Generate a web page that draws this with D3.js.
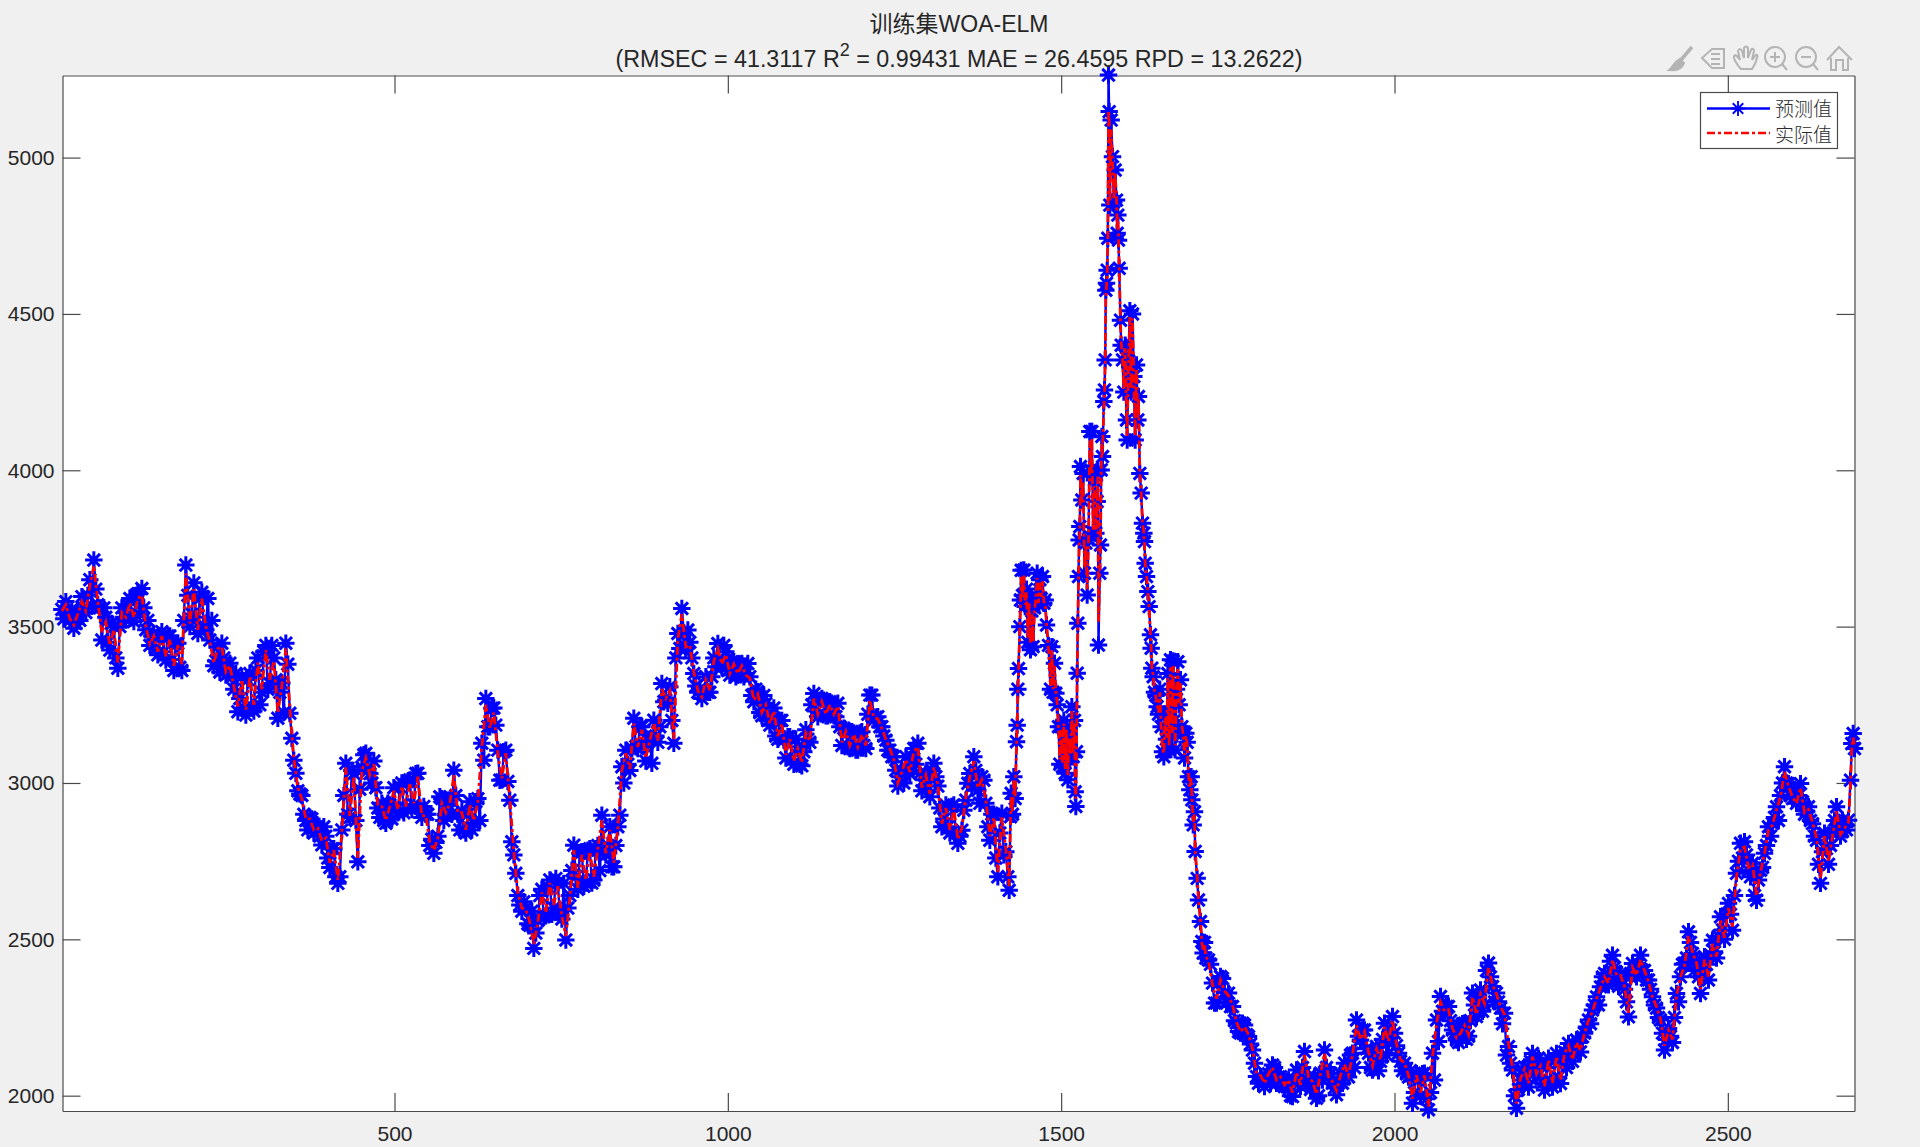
<!DOCTYPE html>
<html>
<head>
<meta charset="utf-8">
<title>WOA-ELM</title>
<script src="https://cdn.jsdelivr.net/npm/d3@7"></script>
<style>
  html, body { margin: 0; padding: 0; background: #f0f0f0; }
  svg { display: block; }
  text { font-family: "Liberation Sans", Arial, sans-serif; }
</style>
</head>
<body>
<svg id="chart" width="1920" height="1147"></svg>
<script>
// values, every 6th sample from x = 1
const headStart = 1, headStep = 6;
const headPredicted = [
  3555,3580,3520,3495,3545,3596,3545,3650,3713,3570,
  3457,3530,3425,3500,3367,3560,3521,3590,3516,3605,
  3622,3490,3440,3478,3410,3484,3393,3470,3360,3447,
  3360,3697,3500,3640,3478,3610,3490,3457,3375,3435,
  3447,3345,3383,3300,3228,3340,3217,3350,3230,3400,
  3290,3440,3318,3400,3207,3320,3447,3223,3073,2975,
  2960,2880,2890,2840,2860,2802,2830,2730,2790,2679,
  2850,3063,2890,3030,2748,3050,3095,3030,3070,2920,
  2935,2871,2930,2985,2905,3000,2920,3010,2930,3031,
  2890,2900,2800,2775,2830,2950,2900,2945,3041,2900,
  2910,2840,2940,2871,2950,3127,3270,3180,3240,3105,
  3010,3105,2945,2770,2640,2590,2600,2545,2471,2560,
  2660,2575,2690,2600,2680,2565,2498,2640,2801,2660,
  2780,2680,2790,2690,2800,2897,2770,2860,2732,2860,
  3052,3105,3040,3207,3110,3180,3070,3140,3201,3130,
  3318,3265,3308,3127,3478,3558,3430,3450,3350,3290,
  3270,3340,3290,3400,3446,3372,3420,3345,3388,3345,
  3382,3350,3340,3260,3292,3215,3255,3185,3240,3140,
  3200,3080,3148,3060,3116,3055,3170,3130,3286,3212,
  3270,3215,3260,3215,3255,3120,3170,3110,3160,3105,
  3164,3110,3281,3201,3212,3180,3137,3105,3084,2990,
  3040,3084,3030,3110,3127,2975,3030,2956,3063,2990,
  2860,2930,2840,2930,2807,2849,2945,3030,3084,2977,
  3020,2935,2817,2900,2700,2903,2780
];
// second pass over the same stretch, samples at x = 4, 10, 16 ...
const headBetweenStart = 4;
const headBetween = [
  3525,3545,3555,3510,3520,3560,3600,3565,3620,3560,
  3560,3450,3510,3400,3500,3530,3570,3530,3600,3540,
  3560,3520,3470,3430,3470,3420,3470,3395,3445,3370,
  3520,3600,3540,3530,3590,3500,3590,3520,3390,3355,
  3400,3350,3340,3350,3270,3240,3330,3240,3360,3250,
  3420,3300,3440,3330,3290,3225,3380,3143,3031,2965,
  2900,2850,2885,2860,2830,2860,2760,2790,2700,2700,
  2960,2900,3040,2880,2980,3090,3040,3000,2985,2890,
  2880,2935,2885,2915,2988,2905,3005,2915,3030,2920,
  2925,2900,2820,2810,2956,2880,2945,2900,2960,2850,
  2850,2900,2850,2940,2880,3073,3180,3239,3185,3009,
  3100,3005,2812,2711,2610,2620,2550,2590,2520,2640,
  2572,2668,2580,2695,2580,2679,2600,2720,2700,2775,
  2670,2785,2680,2790,2720,2780,2800,2732,2800,2897,
  3000,3060,3111,3116,3180,3120,3137,3063,3150,3180,
  3260,3255,3200,3400,3430,3480,3489,3400,3310,3300,
  3287,3290,3340,3372,3380,3440,3360,3388,3340,3380,
  3340,3382,3280,3300,3225,3280,3200,3220,3150,3200,
  3137,3148,3075,3140,3060,3100,3140,3250,3230,3265,
  3265,3215,3255,3212,3180,3175,3116,3164,3105,3160,
  3120,3220,3281,3210,3180,3150,3105,3084,3041,3020,
  3000,3040,3084,3060,3031,3010,2990,3040,3020,2920,
  2885,2860,2925,2840,2830,2913,2999,2990,3040,2935,
  3009,2860,2900,2760,2840,2770
];
const headActual = [
  3550,3570,3525,3505,3540,3580,3550,3630,3695,3580,
  3480,3515,3440,3490,3385,3545,3530,3575,3530,3590,
  3600,3500,3445,3470,3420,3470,3405,3460,3375,3440,
  3380,3670,3510,3620,3490,3590,3500,3450,3385,3430,
  3435,3355,3375,3310,3245,3330,3235,3340,3250,3385,
  3300,3425,3330,3390,3225,3310,3430,3240,3080,2985,
  2950,2885,2885,2850,2855,2815,2825,2745,2785,2690,
  2840,3050,2895,3020,2760,3040,3080,3025,3060,2930,
  2925,2880,2925,2975,2915,2990,2925,3000,2935,3020,
  2895,2895,2810,2785,2825,2935,2905,2935,3025,2905,
  2905,2850,2930,2880,2940,3115,3250,3175,3225,3095,
  3015,3095,2950,2780,2650,2600,2595,2555,2485,2555,
  2650,2585,2680,2610,2670,2575,2510,2630,2785,2665,
  2770,2690,2780,2700,2790,2880,2775,2850,2745,2855,
  3040,3095,3045,3190,3115,3170,3080,3135,3190,3135,
  3300,3270,3295,3140,3460,3540,3435,3440,3355,3295,
  3275,3330,3295,3390,3430,3380,3410,3350,3380,3350,
  3375,3345,3335,3265,3285,3225,3250,3190,3230,3150,
  3190,3090,3140,3070,3110,3065,3160,3135,3270,3220,
  3260,3220,3250,3220,3245,3130,3165,3120,3155,3115,
  3155,3120,3265,3210,3205,3175,3140,3110,3075,3000,
  3035,3075,3035,3100,3115,2985,3025,2965,3050,2995,
  2870,2920,2850,2920,2820,2855,2955,3020,3070,2985,
  3010,2945,2830,2890,2715,2890,2790
];

// the spike around x = 1420..1717 needs its own, closer samples
const spikeX = [
  1420,1422,1424,1425,1427,1429,1431,1433,1434,1435,
  1436,1438,1439,1440,1442,1444,1446,1448,1450,1452,
  1454,1456,1458,1460,1462,1464,1466,1468,1470,1472,
  1474,1476,1478,1481,1484,1486,1488,1490,1492,1494,
  1496,1498,1500,1502,1504,1506,1508,1510,1512,1514,
  1516,1518,1520,1521,1522,1523,1524,1525,1526,1527,
  1528,1529,1531,1533,1535,1537,1539,1541,1543,1545,
  1546,1548,1550,1552,1554,1555,1556,1558,1559,1560,
  1561,1562,1564,1565,1566,1567,1568,1569,1570,1571,
  1572,1573,1575,1577,1579,1581,1583,1584,1585,1586,
  1587,1589,1590,1592,1594,1596,1598,1599,1601,1603,
  1605,1607,1609,1611,1613,1615,1616,1618,1620,1622,
  1624,1625,1626,1628,1630,1632,1634,1635,1636,1638,
  1640,1642,1644,1646,1648,1650,1652,1654,1656,1658,
  1660,1662,1664,1666,1668,1670,1671,1673,1675,1677,
  1679,1681,1683,1685,1687,1689,1691,1693,1695,1696,
  1698,1700,1701,1704,1706,1709,1711,1713,1715,1717
];
const spikePredicted = [
  2700,2657,2892,2967,2900,3020,2950,3132,3185,3300,
  3366,3500,3585,3680,3600,3681,3564,3620,3450,3585,
  3426,3550,3436,3560,3600,3671,3570,3650,3590,3660,
  3575,3585,3505,3440,3300,3436,3290,3383,3287,3250,
  3180,3060,3180,3052,3201,3031,3180,3010,3150,3084,
  3244,3084,3200,2972,2925,3100,3351,3511,3660,3777,
  3820,4012,3905,3990,3671,3767,3601,3780,4124,4000,
  4124,3800,3969,3799,3900,4001,3441,3671,3761,4001,
  4108,4044,4220,4257,4353,4576,4598,4640,4742,5264,
  5147,4848,5120,5003,4859,4960,4864,4758,4816,4736,
  4646,4480,4400,4353,4250,4400,4161,4097,4350,4510,
  4250,4500,4300,4097,4337,4161,4236,3990,3927,3831,
  3799,3772,3703,3660,3612,3564,3474,3431,3367,3340,
  3290,3280,3244,3220,3300,3180,3100,3084,3220,3140,
  3350,3106,3394,3150,3390,3200,3106,3300,3388,3250,
  3330,3180,3160,3080,3159,3130,3020,2978,3020,2946,
  2866,2908,2781,2695,2626,2557,2493,2456,2490,2440
];
const spikeActual = [
  2720,2670,2880,2955,2905,3010,2955,3120,3180,3290,
  3360,3490,3575,3660,3595,3665,3570,3610,3465,3575,
  3445,3540,3450,3550,3590,3655,3575,3640,3595,3645,
  3580,3575,3510,3430,3310,3425,3300,3375,3295,3255,
  3175,3075,3170,3065,3190,3045,3170,3025,3145,3090,
  3230,3095,3190,2985,2950,3110,3340,3505,3650,3760,
  3810,3985,3900,3965,3690,3755,3620,3770,4095,3995,
  4100,3810,3950,3810,3890,3980,3515,3680,3755,3985,
  4090,4050,4200,4240,4340,4550,4590,4625,4730,5150,
  5120,4860,5090,4990,4870,4950,4870,4770,4810,4745,
  4660,4470,4410,4360,4260,4390,4175,4110,4340,4490,
  4260,4485,4305,4110,4325,4170,4230,3995,3930,3835,
  3800,3765,3700,3665,3610,3560,3470,3435,3370,3345,
  3295,3275,3250,3225,3290,3185,3110,3095,3210,3145,
  3335,3120,3370,3160,3375,3205,3120,3290,3365,3255,
  3320,3185,3155,3090,3150,3125,3025,2985,3015,2955,
  2875,2900,2785,2700,2630,2560,2490,2465,2485,2445
];

// every 6th sample again from x = 1721
const tailStart = 1721, tailStep = 6;
const tailPredicted = [
  2434,2360,2296,2381,2330,2328,2285,2232,2200,2226,
  2189,2146,2061,2061,2029,2070,2098,2040,2061,2029,
  2050,1997,2082,2030,2141,2061,2040,1992,2072,2146,
  2060,2040,2003,2070,2104,2060,2136,2242,2178,2210,
  2136,2082,2157,2110,2232,2170,2253,2160,2110,2104,
  2060,1976,2070,2000,2072,1955,2136,2242,2317,2264,
  2285,2210,2178,2200,2232,2190,2328,2253,2338,2290,
  2424,2349,2328,2280,2264,2157,2082,1960,2050,2092,
  2028,2135,2060,2100,2018,2120,2028,2135,2039,2140,
  2167,2110,2178,2140,2200,2242,2274,2316,2348,2391,
  2355,2449,2380,2391,2340,2252,2423,2380,2449,2400,
  2370,2316,2280,2242,2146,2215,2170,2327,2380,2423,
  2524,2455,2433,2327,2444,2370,2497,2440,2572,2500,
  2615,2529,2711,2807,2812,2720,2743,2625,2721,2775,
  2860,2870,2924,2960,3052,2998,2950,2935,2998,2900,
  2924,2870,2817,2679,2839,2740,2839,2924,2830,2860
];
// second pass, samples at x = 1724, 1730, 1736 ...
const tailBetweenStart = 1724;
const tailBetween = [
  2420,2296,2360,2375,2300,2285,2240,2205,2232,2195,
  2165,2104,2040,2045,2060,2040,2090,2060,2035,2045,
  2000,2050,2040,2090,2050,2020,2060,2000,2050,2090,
  2072,2025,2040,2040,2080,2130,2090,2190,2210,2150,
  2090,2130,2080,2180,2130,2210,2200,2136,2080,2070,
  2080,2010,2050,2070,1990,2010,2050,2173,2270,2285,
  2240,2200,2170,2230,2180,2240,2290,2310,2270,2400,
  2380,2300,2300,2230,2130,2104,2000,2020,2082,2060,
  2110,2075,2120,2040,2090,2050,2110,2060,2110,2090,
  2150,2130,2170,2188,2220,2230,2290,2290,2380,2360,
  2430,2410,2350,2370,2300,2380,2400,2420,2400,2370,
  2340,2290,2250,2200,2180,2190,2250,2300,2420,2440,
  2490,2400,2380,2400,2420,2450,2460,2510,2530,2580,
  2580,2640,2750,2760,2770,2700,2640,2690,2730,2800,
  2830,2890,2880,3000,3000,2960,2980,2960,2940,2910,
  2880,2830,2740,2780,2790,2800,2880,2870,2880,2850
];
const tailActual = [
  2430,2355,2310,2370,2335,2320,2290,2235,2205,2220,
  2195,2150,2070,2065,2040,2070,2090,2050,2060,2035,
  2050,2010,2075,2035,2130,2060,2045,2005,2070,2135,
  2060,2045,2015,2065,2100,2065,2130,2225,2180,2205,
  2140,2095,2150,2115,2220,2175,2240,2165,2115,2105,
  2065,1990,2065,2010,2065,1965,2125,2230,2300,2270,
  2275,2215,2185,2200,2225,2195,2315,2260,2325,2295,
  2410,2355,2325,2285,2260,2165,2090,1975,2055,2085,
  2040,2125,2070,2095,2030,2115,2040,2125,2050,2135,
  2160,2115,2170,2145,2200,2240,2270,2310,2345,2380,
  2360,2435,2385,2385,2350,2265,2410,2385,2435,2400,
  2365,2315,2285,2245,2160,2210,2180,2320,2380,2415,
  2510,2460,2425,2340,2435,2380,2485,2445,2560,2505,
  2600,2540,2700,2790,2795,2730,2740,2640,2715,2775,
  2850,2865,2915,2955,3035,2990,2955,2935,2985,2905,
  2915,2875,2825,2695,2830,2750,2830,2910,2835,2855
];

// last jump at the right edge
const endX = [2681,2684,2686,2688,2690];
const endPredicted = [2881,3009,3126,3158,3110];
const endActual = [2875,3000,3115,3145,3115];

const xTicks = [500,1000,1500,2000,2500];
const yTicks = [2000,2500,3000,3500,4000,4500,5000];
const legendLabels = ["预测值","实际值"];
const titleTop = "训练集WOA-ELM";
const titleStats = ["(RMSEC = 41.3117 R", "2", " = 0.99431 MAE = 26.4595 RPD = 13.2622)"];

function buildPoints(head, spike, tail, end) {
  var pts = [];
  head.forEach(function(v, i) { pts.push([headStart + i * headStep, v]); });
  spike.forEach(function(v, i) { pts.push([spikeX[i], v]); });
  tail.forEach(function(v, i) { pts.push([tailStart + i * tailStep, v]); });
  end.forEach(function(v, i) { pts.push([endX[i], v]); });
  return pts;
}
const predicted = buildPoints(headPredicted, spikePredicted, tailPredicted, endPredicted);
headBetween.forEach(function(v, i) { predicted.push([headBetweenStart + i * headStep, v]); });
tailBetween.forEach(function(v, i) { predicted.push([tailBetweenStart + i * tailStep, v]); });
predicted.sort(function(a, b) { return a[0] - b[0]; });
const actual = buildPoints(headActual, spikeActual, tailActual, endActual);

const box = { left: 62.5, right: 1854.5, top: 75.5, bottom: 1111 };
const svg = d3.select("#chart");

const x = d3.scaleLinear().domain([2, 2690]).range([box.left, box.right]);
const y = d3.scaleLinear().domain([1951, 5262.5]).range([box.bottom, box.top]);

svg.append("rect")
  .attr("x", box.left).attr("y", box.top)
  .attr("width", box.right - box.left).attr("height", box.bottom - box.top)
  .attr("fill", "#fff");

function styleAxis(g) {
  g.selectAll("path, line").attr("stroke", "#4a4a4a").attr("stroke-width", 1.2);
  g.selectAll("text").attr("fill", "#262626").style("font-family", "'Liberation Sans', Arial, sans-serif").style("font-size", "21px");
}

// all four sides carry inward ticks, only bottom and left have labels
svg.append("g").attr("transform", "translate(0," + box.bottom + ")")
  .call(d3.axisBottom(x).tickValues(xTicks).tickSizeInner(-18).tickSizeOuter(0).tickPadding(15).tickFormat(d3.format("d")))
  .call(styleAxis);
svg.append("g").attr("transform", "translate(0," + box.top + ")")
  .call(d3.axisTop(x).tickValues(xTicks).tickSizeInner(-18).tickSizeOuter(0).tickFormat(""))
  .call(styleAxis);
svg.append("g").attr("transform", "translate(" + box.left + ",0)")
  .call(d3.axisLeft(y).tickValues(yTicks).tickSizeInner(-18).tickSizeOuter(0).tickPadding(8).tickFormat(d3.format("d")))
  .call(styleAxis);
svg.append("g").attr("transform", "translate(" + box.right + ",0)")
  .call(d3.axisRight(y).tickValues(yTicks).tickSizeInner(-18).tickSizeOuter(0).tickFormat(""))
  .call(styleAxis);

const line = d3.line().x(function(d) { return x(d[0]); }).y(function(d) { return y(d[1]); });

// matlab style asterisk
const asterisk = {
  draw: function(ctx, size) {
    var r = Math.sqrt(size), k = r * 0.7071;
    ctx.moveTo(-r, 0); ctx.lineTo(r, 0);
    ctx.moveTo(0, -r); ctx.lineTo(0, r);
    ctx.moveTo(-k, -k); ctx.lineTo(k, k);
    ctx.moveTo(-k, k); ctx.lineTo(k, -k);
  }
};
const starPath = d3.symbol().type(asterisk).size(76);

svg.append("path")
  .attr("d", line(predicted))
  .attr("fill", "none").attr("stroke", "#0000ff").attr("stroke-width", 2.4);

svg.append("g").selectAll("path")
  .data(predicted)
  .enter().append("path")
  .attr("transform", function(d) { return "translate(" + x(d[0]) + "," + y(d[1]) + ")"; })
  .attr("d", starPath)
  .attr("fill", "none").attr("stroke", "#0000ff").attr("stroke-width", 3);

svg.append("path")
  .attr("d", line(actual))
  .attr("fill", "none").attr("stroke", "#ff0000").attr("stroke-width", 2.8)
  .attr("stroke-dasharray", "8,3,3,3");

// title
svg.append("text").attr("x", 959).attr("y", 32)
  .attr("text-anchor", "middle").attr("fill", "#262626")
  .style("font-family", "'Liberation Sans', 'Noto Sans CJK SC', sans-serif").style("font-size", "23px")
  .text(titleTop);
const stats = svg.append("text").attr("x", 959).attr("y", 67)
  .attr("text-anchor", "middle").attr("fill", "#262626")
  .style("font-size", "23.3px");
stats.append("tspan").text(titleStats[0]);
stats.append("tspan").attr("dy", -11).style("font-size", "18px").text(titleStats[1]);
stats.append("tspan").attr("dy", 11).text(titleStats[2]);

// legend
const legend = svg.append("g");
legend.append("rect")
  .attr("x", 1700.5).attr("y", 92.5).attr("width", 137).attr("height", 56)
  .attr("fill", "#fff").attr("stroke", "#4a4a4a").attr("stroke-width", 1.2);
legend.append("line").attr("x1", 1707).attr("x2", 1770).attr("y1", 108.5).attr("y2", 108.5)
  .attr("stroke", "#0000ff").attr("stroke-width", 2.6);
legend.append("path").attr("transform", "translate(1738,108.5) scale(0.85)").attr("d", starPath)
  .attr("fill", "none").attr("stroke", "#0000ff").attr("stroke-width", 2.2);
legend.append("line").attr("x1", 1707).attr("x2", 1770).attr("y1", 133).attr("y2", 133)
  .attr("stroke", "#ff0000").attr("stroke-width", 2.6).attr("stroke-dasharray", "8,3,3,3");
legend.selectAll("text").data(legendLabels).enter().append("text")
  .attr("x", 1775).attr("y", function(d, i) { return 116 + i * 25.5; })
  .attr("fill", "#2a2a2a")
  .style("font-family", "'Noto Sans CJK SC', sans-serif").style("font-size", "19px").style("font-weight", 300)
  .text(function(d) { return d; });

// figure toolbar
const tools = svg.append("g").attr("fill", "none").attr("stroke", "#b4b4b4").attr("stroke-width", 2);
tools.append("path").attr("d", "M1692,47 L1680,61").attr("stroke-width", 3.5);
tools.append("path").attr("d", "M1680,59 L1684,63 C1682,69 1676,71 1669,70 C1673,67 1674,62 1680,59 Z").attr("fill", "#b4b4b4");
tools.append("path").attr("d", "M1712,49 H1724 V68 H1712 L1702,58 Z M1711,54 H1720 M1711,59 H1720 M1711,64 H1720");
tools.append("path").attr("d", "M1741,69 C1737,65 1733,58 1734,56 C1736,54 1738,57 1740,60 L1738,51 C1739,48 1741,49 1742,51 L1744,58 L1744,48 C1745,46 1747,46 1748,48 L1748,58 L1751,50 C1752,48 1754,49 1754,51 L1752,60 L1756,55 C1757,54 1758,56 1757,58 C1756,63 1754,66 1752,69 Z");
tools.append("circle").attr("cx", 1775).attr("cy", 57).attr("r", 10);
tools.append("path").attr("d", "M1782,64 L1787,70 M1770,57 H1780 M1775,52 V62");
tools.append("circle").attr("cx", 1806).attr("cy", 57).attr("r", 10);
tools.append("path").attr("d", "M1813,64 L1818,70 M1801,57 H1811");
tools.append("path").attr("d", "M1827,60 L1839,47 L1852,60 M1831,58 V70 H1836 V60 H1843 V70 H1848 V58");
</script>
</body>
</html>
